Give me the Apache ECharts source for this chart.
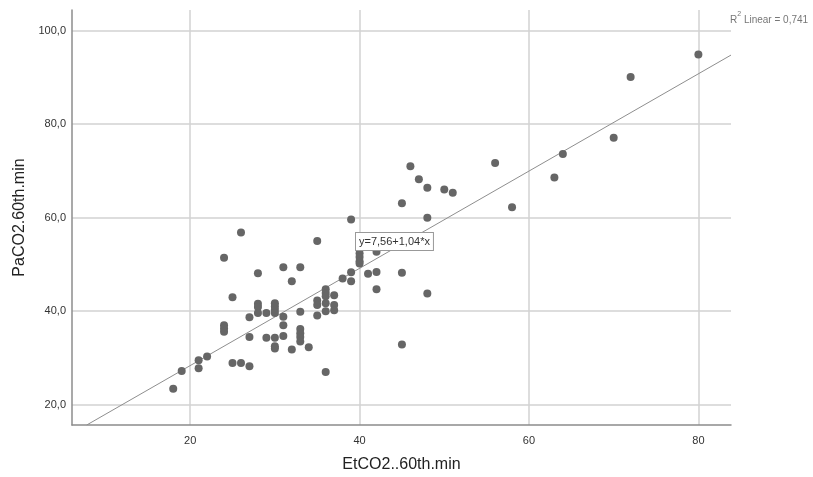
<!DOCTYPE html>
<html>
<head>
<meta charset="utf-8">
<script src="https://cdn.jsdelivr.net/npm/echarts@6/dist/echarts.min.js"></script>
<style>
html,body{margin:0;padding:0;background:#fff;}
#chart{width:813px;height:477px;}
</style>
</head>
<body>
<div id="chart"></div>
<script>
// EtCO2 (x) values
var etco2 = [80,72,70,64,63,56,58,46,47,48,50,51,45,48,39,26,35,42,40,40,40,40,24,31,33,28,38,39,39,41,42,45,32,42,48,25,36,36,36,37,35,35,36,37,37,36,35,33,28,28,28,27,29,30,30,30,30,31,31,24,24,24,27,29,30,30,30,31,33,33,33,33,32,34,45,25,26,27,36,22,21,21,19,18];
// PaCO2 (y) values
var paco2 = [94.9,90.1,77.1,73.6,68.6,71.7,62.2,71.0,68.2,66.4,66.0,65.3,63.1,60.0,59.6,56.8,55.0,52.7,52.4,51.6,50.7,50.2,51.4,49.4,49.4,48.1,47.0,48.3,46.4,48.0,48.4,48.2,46.4,44.7,43.8,43.0,44.7,43.9,43.2,43.4,42.3,41.3,41.7,41.3,40.2,40.0,39.1,39.9,41.6,40.9,39.6,38.7,39.6,41.7,41.0,40.3,39.6,38.8,37.0,37.0,36.3,35.6,34.5,34.3,34.3,32.5,32.0,34.7,36.2,35.3,34.5,33.5,31.8,32.3,32.9,28.9,28.9,28.2,27.0,30.3,29.5,27.8,27.2,23.4];
// Fit line
var intercept = 7.56;
var slope = 1.04;
var equationText = 'y=7,56+1,04*x';
var r2Text = '0,741';
var xAxisName = 'EtCO2..60th.min';
var yAxisName = 'PaCO2.60th.min';
var xRange = [6.05, 83.85];
var yRange = [15.66, 104.4];

var points = etco2.map(function(x, i){ return [x, paco2[i]]; });
var fx0 = (yRange[0] - intercept) / slope;
var fx1 = xRange[1];
var fitLine = [[fx0, intercept + slope * fx0], [fx1, intercept + slope * fx1]];

var chart = echarts.init(document.getElementById('chart'));
var fmt = function(v){ return v.toFixed(1).replace('.', ','); };
chart.setOption({
  animation: false,
  backgroundColor: '#ffffff',
  grid: {left: 72, top: 10, width: 659, height: 415, containLabel: false, outerBoundsMode: 'none'},
  xAxis: {
    type: 'value', min: xRange[0], max: xRange[1], splitNumber: 4,
    name: xAxisName, nameLocation: 'middle', nameGap: 32,
    nameTextStyle: {fontFamily: 'Liberation Sans', fontSize: 16, color: '#222'},
    axisLine: {show: true, lineStyle: {color: '#8c8c8c', width: 1.5}},
    axisTick: {show: false},
    axisLabel: {showMinLabel: false, showMaxLabel: false, fontFamily: 'Liberation Sans', fontSize: 11, color: '#333', margin: 10},
    splitLine: {show: true, showMinLine: false, showMaxLine: false, lineStyle: {color: '#d2d2d2', width: 1.5}}
  },
  yAxis: {
    type: 'value', min: yRange[0], max: yRange[1], splitNumber: 4,
    name: yAxisName, nameLocation: 'middle', nameGap: 27,
    nameTextStyle: {fontFamily: 'Liberation Sans', fontSize: 16, color: '#222'},
    axisLine: {show: true, lineStyle: {color: '#8c8c8c', width: 1.5}},
    axisTick: {show: false},
    axisLabel: {showMinLabel: false, showMaxLabel: false, fontFamily: 'Liberation Sans', fontSize: 11, color: '#333', margin: 6, formatter: fmt},
    splitLine: {show: true, showMinLine: false, showMaxLine: false, lineStyle: {color: '#d2d2d2', width: 1.5}}
  },
  series: [
    {
      type: 'line', data: fitLine, symbol: 'none', silent: true,
      lineStyle: {color: '#8e8e8e', width: 1}, z: 2
    },
    {
      type: 'scatter', data: points, symbolSize: 8,
      itemStyle: {color: '#666666', opacity: 1}, z: 3
    }
  ],
  graphic: [
    {
      type: 'text', left: 355, top: 232, z: 10,
      style: {
        text: equationText, fontFamily: 'Liberation Sans', fontSize: 11, fill: '#333',
        backgroundColor: '#fff', borderColor: '#999', borderWidth: 1,
        padding: [3, 3, 3, 3]
      }
    },
    {
      type: 'text', left: 730, top: 11, z: 10,
      style: {
        text: '{t|R}{sup|2}{t| Linear = ' + r2Text + '}',
        rich: {
          t: {fontFamily: 'Liberation Sans', fontSize: 10, fill: '#777', lineHeight: 14, verticalAlign: 'bottom'},
          sup: {fontFamily: 'Liberation Sans', fontSize: 7, fill: '#777', lineHeight: 14, verticalAlign: 'top'}
        }
      }
    }
  ]
});
</script>
</body>
</html>
